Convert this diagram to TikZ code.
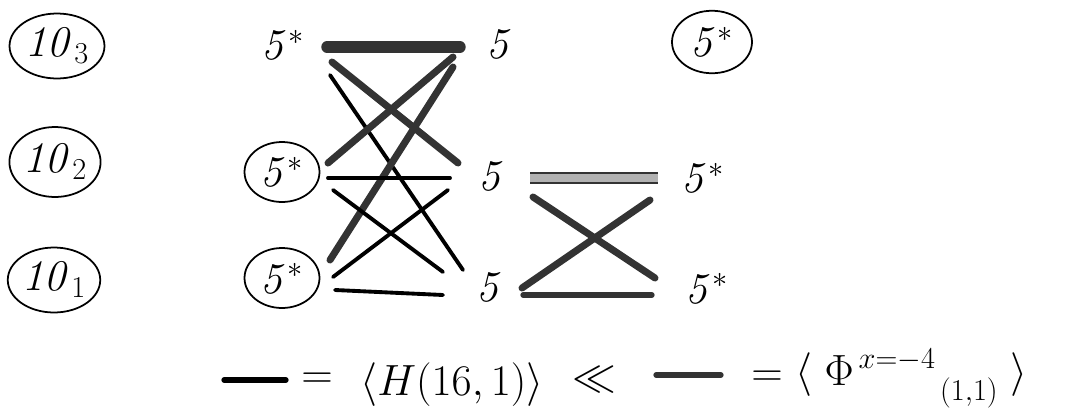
\documentclass[tikz,border=0pt]{standalone}
\usepackage{amsmath,amssymb}
\usepackage{tikz}
\usetikzlibrary{shapes.geometric}

\begin{document}
\begin{tikzpicture}[
  x=0.02cm, y=-0.02cm,
  font=\fontsize{26}{30}\selectfont,
  lbl/.style={inner sep=0pt},
  ring/.style={ellipse, draw, line width=1pt, inner sep=0pt},
  plain/.style={line width=2.2pt, line cap=round},
  shade/.style={line width=4pt, line cap=round, draw=black!80},
  heavy/.style={line width=6.5pt, line cap=round, draw=black!80}
]
\useasboundingbox (0,0) rectangle (1072,413);

% the three 10s
\node[ring, minimum width=1.9cm, minimum height=1.3cm] (n3) at (57,46) {$\mathit{10}_3$};
\node[ring, minimum width=1.8cm, minimum height=1.4cm] (n2) at (55,162) {$\mathit{10}_2$};
\node[ring, minimum width=1.85cm, minimum height=1.3cm] (n1) at (54,280) {$\mathit{10}_1$};

% 5* and 5 columns
\node[lbl] (a3) at (283,45) {$\mathit{5}^*$};
\node[ring, minimum width=1.5cm, minimum height=1.2cm] (a2) at (282,172) {$\mathit{5}^*$};
\node[ring, minimum width=1.5cm, minimum height=1.2cm] (a1) at (282,278) {$\mathit{5}^*$};
\node[lbl] (b3) at (500,44) {$\mathit{5}$};
\node[lbl] (b2) at (492,176) {$\mathit{5}$};
\node[lbl] (b1) at (490,287) {$\mathit{5}$};
\node[ring, minimum width=1.6cm, minimum height=1.25cm] (c3) at (712,42) {$\mathit{5}^*$};
\node[lbl] (c2) at (703,178) {$\mathit{5}^*$};
\node[lbl] (c1) at (707,288) {$\mathit{5}^*$};

% line ends, left block
\coordinate (p1) at (327,47);  \coordinate (q1) at (460,47);
\coordinate (p2) at (332,62);  \coordinate (q2) at (458,163);
\coordinate (p3) at (330,75);  \coordinate (q3) at (463,270);
\coordinate (p4) at (453,57);  \coordinate (q4) at (328,163);
\coordinate (p5) at (453,67);  \coordinate (q5) at (330,260);
\coordinate (p6) at (328,178); \coordinate (q6) at (450,178);
\coordinate (p7) at (333,190); \coordinate (q7) at (443,272);
\coordinate (p8) at (448,190); \coordinate (q8) at (333,277);
\coordinate (p9) at (335,290); \coordinate (q9) at (443,295);
% line ends, right block
\coordinate (r1) at (530,178); \coordinate (s1) at (658,178);
\coordinate (r2) at (533,197); \coordinate (s2) at (655,278);
\coordinate (r3) at (650,200); \coordinate (s3) at (522,288);
\coordinate (r4) at (523,295); \coordinate (s4) at (652,295);

\draw[heavy] (p1) -- (q1);
\draw[shade] (p2) -- (q2);
\draw[plain] (p3) -- (q3);
\draw[shade] (p4) -- (q4);
\draw[shade] (p5) -- (q5);
\draw[plain] (p6) -- (q6);
\draw[plain] (p7) -- (q7);
\draw[plain] (p8) -- (q8);
\draw[plain] (p9) -- (q9);

\draw[heavy, double=black!30, double distance=4pt, line width=1.5pt, line cap=butt] (r1) -- (s1);
\draw[shade] (r2) -- (s2);
\draw[shade] (r3) -- (s3);
\draw[shade, line width=3pt] (r4) -- (s4);

% key
\coordinate (k1) at (224,380); \coordinate (k2) at (286,380);
\coordinate (k3) at (656,375); \coordinate (k4) at (721,375);
\draw[plain, line width=3pt] (k1) -- (k2);
\draw[shade, line width=3pt] (k3) -- (k4);
\node[lbl, font=\fontsize{24}{28}\selectfont] (e1) at (317,381) {$=$};
\node[lbl, anchor=west, font=\fontsize{24}{28}\selectfont] (hv) at (360,385) {$\langle H(16,1)\rangle$};
\node[lbl, font=\fontsize{24}{28}\selectfont] (ll) at (594,380) {$\ll$};
\node[lbl, font=\fontsize{24}{28}\selectfont] (e2) at (767,379) {$=$};
\node[lbl, anchor=west, font=\fontsize{24}{28}\selectfont] (ph) at (795,378) {$\langle\;\Phi^{\,x=-4}_{\hphantom{\,x=-4}\,(1,1)}\;\rangle$};
\end{tikzpicture}
\end{document}
